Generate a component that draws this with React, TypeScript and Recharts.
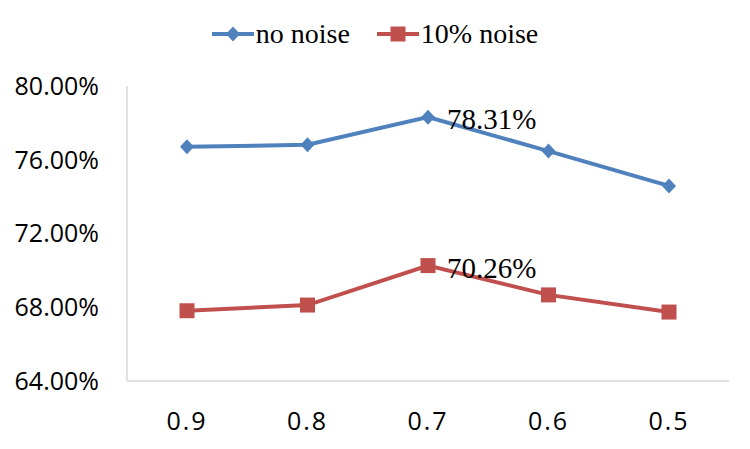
import { LineChart, Line, XAxis, YAxis, Legend } from 'recharts';

const categories = ['0.9', '0.8', '0.7', '0.6', '0.5'];
const noNoise = [76.7, 76.81, 78.31, 76.47, 74.58];
const tenPctNoise = [67.81, 68.12, 70.26, 68.67, 67.74];
const yTicks = [64, 68, 72, 76, 80];
const labelledCategory = '0.7';

const BLUE = '#4f81bd';
const RED = '#c0504d';
const AXIS = '#d9d9d9';
const SANS = '"Open Sans", sans-serif';
const SERIF = '"Liberation Serif", "Times New Roman", serif';

const data = categories.map((c, i) => ({ cat: c, clean: noNoise[i], noisy: tenPctNoise[i] }));

const Diamond = ({ cx, cy, fill }: { cx: number; cy: number; fill: string }) => (
  <polygon points={`${cx},${cy - 7.5} ${cx + 7},${cy} ${cx},${cy + 7.5} ${cx - 7},${cy}`} fill={fill} />
);

const Square = ({ cx, cy, fill }: { cx: number; cy: number; fill: string }) => (
  <rect x={cx - 7.5} y={cy - 7.5} width={15} height={15} fill={fill} />
);

const makeLabel = (series: number[]) => (props: any) => {
  const { x, y, index } = props;
  if (categories[index] !== labelledCategory) return null;
  return (
    <text
      key={`lbl-${index}`}
      x={x + 19}
      y={y + 2}
      dominantBaseline="central"
      fontSize={29}
      fontFamily={SERIF}
      fill="#000"
    >
      {series[index].toFixed(2)}%
    </text>
  );
};

const LegendContent = () => {
  const items = [
    { name: 'no noise', color: BLUE, shape: 'diamond' },
    { name: '10% noise', color: RED, shape: 'square' },
  ];
  return (
    <div style={{ display: 'flex', justifyContent: 'center', alignItems: 'center', height: 40, gap: 27 }}>
      {items.map((it) => (
        <div key={it.name} style={{ display: 'flex', alignItems: 'center' }}>
          <svg width={42} height={20}>
            <line x1={0} y1={10} x2={42} y2={10} stroke={it.color} strokeWidth={4} />
            {it.shape === 'diamond' ? <Diamond cx={21} cy={10} fill={it.color} /> : <Square cx={21} cy={10} fill={it.color} />}
          </svg>
          <span style={{ fontFamily: SERIF, fontSize: 28, color: '#000', marginLeft: 2, lineHeight: '40px' }}>{it.name}</span>
        </div>
      ))}
    </div>
  );
};

export default function App() {
  return (
    <div style={{ position: 'fixed', left: 0, top: 0, width: 750, height: 449, background: '#fff' }}>
      <LineChart width={750} height={449} data={data} margin={{ top: 86, right: 21, bottom: 0, left: 0 }}>
        <XAxis
          dataKey="cat"
          height={68}
          padding={{ left: 60, right: 60 }}
          axisLine={{ stroke: AXIS, strokeWidth: 1.5 }}
          tickLine={false}
          tickSize={0}
          tickMargin={31}
          tick={{ fontSize: 25, fontFamily: SANS, fill: '#000', letterSpacing: 2 }}
        />
        <YAxis
          width={127}
          domain={[64, 80]}
          ticks={yTicks}
          interval={0}
          axisLine={{ stroke: AXIS, strokeWidth: 1.5 }}
          tickLine={false}
          tickSize={0}
          tickMargin={28}
          tickFormatter={(v: number) => `${v.toFixed(2)}%`}
          tick={{ fontSize: 25, fontFamily: SANS, fill: '#000' }}
        />
        <Legend
          layout="horizontal"
          verticalAlign="middle"
          align="center"
          content={<LegendContent />}
          wrapperStyle={{ top: 14, left: 0, width: 750 }}
        />
        <Line
          dataKey="clean"
          name="no noise"
          stroke={BLUE}
          strokeWidth={4}
          isAnimationActive={false}
          dot={(p: any) => <Diamond key={`d-${p.index}`} cx={p.cx} cy={p.cy} fill={BLUE} />}
          activeDot={false}
          label={makeLabel(noNoise)}
        />
        <Line
          dataKey="noisy"
          name="10% noise"
          stroke={RED}
          strokeWidth={4}
          isAnimationActive={false}
          dot={(p: any) => <Square key={`s-${p.index}`} cx={p.cx} cy={p.cy} fill={RED} />}
          activeDot={false}
          label={makeLabel(tenPctNoise)}
        />
      </LineChart>
    </div>
  );
}
